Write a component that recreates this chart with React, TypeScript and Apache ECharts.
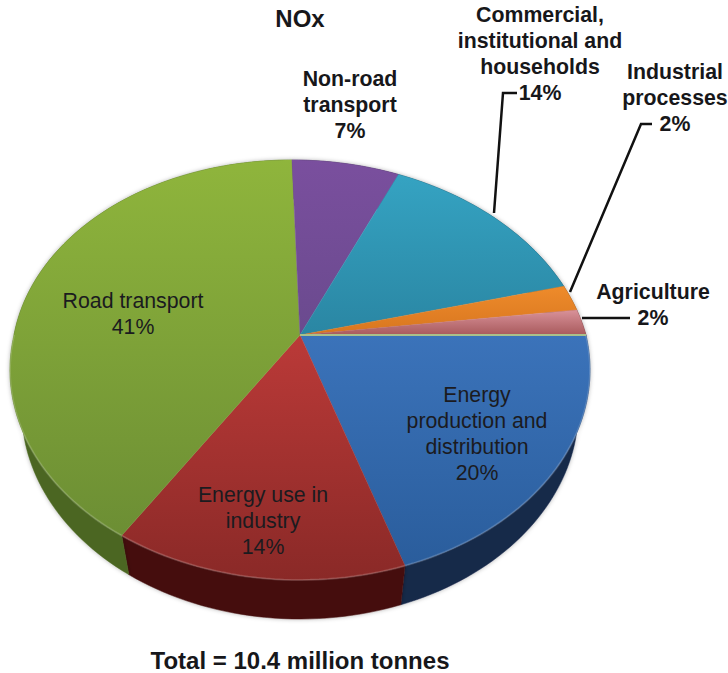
import React, { useEffect, useRef } from "react";
import * as echarts from "echarts";

// NOx emissions by source, clockwise from three o'clock.
const sources = [
  "Energy\nproduction and\ndistribution",
  "Energy use in\nindustry",
  "Road transport",
  "Non-road\ntransport",
  "Commercial,\ninstitutional and\nhouseholds",
  "Industrial\nprocesses",
  "Agriculture",
];
const shares = [20, 14, 41, 7, 14, 2, 2];
const chartTitle = "NOx";
const totalNote = "Total = 10.4 million tonnes";

const topColors = [
  ["#3b73ba", "#2a5d9c"],
  ["#bb3a38", "#8a2927"],
  ["#8fb53c", "#6c8e34"],
  ["#7a4f9e", "#6a4a8e"],
  ["#35a3c2", "#2a86a3"],
  ["#ee8b2b", "#d8761f"],
  ["#d9929a", "#a85a5c"],
];
const wallColors = ["#16294a", "#45100e", "#4b6620", "#3a2650", "#14485a", "#7a4010", "#5a2a2c"];

// A flat disc seen in perspective: the rim is an ellipse and the disc's centre
// sits above the ellipse's own centre. The far half leans slightly to the left.
const CX = 300;
const CY = 370;
const RX = 286;
const RY = 210;
const APEX_SHIFT = 35;
const FORESHORTEN = 1 / 6;
const DEPTH = 39;
const BASE_SCALE = 0.96;
const LEAN = 0.046;

function rimPoint(deg: number): [number, number] {
  const a = (deg * Math.PI) / 180;
  const u = Math.cos(a);
  const v = -Math.sin(a);
  const d = 1 + v * FORESHORTEN;
  const x = CX + (RX * u) / d;
  const y = CY + (-RY * v - APEX_SHIFT) / d;
  const above = Math.max(0, CY - APEX_SHIFT - y);
  return [x - LEAN * above, y];
}

function basePoint(p: [number, number]): [number, number] {
  return [CX + (p[0] - CX) * BASE_SCALE, p[1] + DEPTH];
}

function arcPoints(from: number, to: number): [number, number][] {
  const n = Math.max(2, Math.ceil((to - from) / 1.5));
  const pts: [number, number][] = [];
  for (let i = 0; i <= n; i++) pts.push(rimPoint(from + ((to - from) * i) / n));
  return pts;
}

function sliceRange(index: number): [number, number] {
  const total = shares.reduce((s, v) => s + v, 0);
  let before = 0;
  for (let i = 0; i < index; i++) before += shares[i];
  return [(before / total) * 360, ((before + shares[index]) / total) * 360];
}

const apex: [number, number] = [CX, CY - APEX_SHIFT];

function renderWall(params: any) {
  const [from, to] = sliceRange(params.dataIndex);
  const rim = arcPoints(from, to);
  return {
    type: "polygon",
    silent: true,
    shape: { points: [...rim, ...rim.map(basePoint).reverse()] },
    style: {
      fill: wallColors[params.dataIndex],
      stroke: wallColors[params.dataIndex],
      lineWidth: 0.5,
      shadowBlur: 4,
      shadowColor: "rgba(0,0,0,0.3)",
    },
  };
}

function renderTop(params: any) {
  const i = params.dataIndex;
  const [from, to] = sliceRange(i);
  const rim = arcPoints(from, to);
  const surface = {
    type: "linear",
    x: 0,
    y: 0,
    x2: 0,
    y2: 1,
    colorStops: [
      { offset: 0, color: topColors[i][0] },
      { offset: 1, color: topColors[i][1] },
    ],
  };
  const children: any[] = [
    {
      type: "polygon",
      silent: true,
      shape: { points: [apex, ...rim] },
      style: { fill: surface, stroke: surface, lineWidth: 0.4 },
    },
  ];
  // Light bevel along the near edge of the disc.
  if (from < 180) {
    children.push({
      type: "polyline",
      silent: true,
      shape: { points: arcPoints(from, Math.min(to, 180)) },
      style: { fill: "none", stroke: "rgba(255,255,255,0.16)", lineWidth: 2 },
    });
  }
  // Pale seam where the last slice closes the circle.
  if (i === shares.length - 1) {
    children.push({
      type: "line",
      silent: true,
      shape: { x1: apex[0], y1: apex[1], x2: rim[rim.length - 1][0], y2: rim[rim.length - 1][1] },
      style: { stroke: "#a9c08a", lineWidth: 2 },
    });
  }
  return { type: "group", children };
}

const INNER = { font: '21.3px "Liberation Sans", Arial, sans-serif', fill: "#1b1b1f" };
const OUTER = { font: 'bold 21.3px "Liberation Sans", Arial, sans-serif', fill: "#17171a" };
const HEADING = { font: 'bold 24px "Liberation Sans", Arial, sans-serif', fill: "#17171a" };

function label(text: string, x: number, y: number, base: { font: string; fill: string }) {
  return {
    type: "text",
    x,
    y,
    z: 100,
    silent: true,
    style: { text, font: base.font, fill: base.fill, align: "center", verticalAlign: "top", lineHeight: 26 },
  };
}

const sourceLabel = (i: number) => `${sources[i]}\n${shares[i]}%`;

function leader(points: [number, number][]) {
  return {
    type: "polyline",
    z: 100,
    silent: true,
    shape: { points },
    style: { fill: "none", stroke: "#111", lineWidth: 2.5 },
  };
}

export default function App() {
  const ref = useRef<HTMLDivElement>(null);
  useEffect(() => {
    const chart = echarts.init(ref.current!, undefined, { renderer: "svg" });
    chart.setOption({
      animation: false,
      backgroundColor: "#ffffff",
      series: [
        { type: "custom", coordinateSystem: "none", z: 1, silent: true, data: shares, renderItem: renderWall },
        { type: "custom", coordinateSystem: "none", z: 2, silent: true, data: shares, renderItem: renderTop },
      ],
      graphic: {
        elements: [
          label(chartTitle, 300, 5, HEADING),
          label(totalNote, 300, 647, HEADING),
          label(sourceLabel(0), 477, 382, INNER),
          label(sourceLabel(1), 263, 482, INNER),
          label(sourceLabel(2), 133, 288, INNER),
          label(sourceLabel(3), 350, 66, OUTER),
          label(sourceLabel(4), 540, 2, OUTER),
          label(sourceLabel(5), 675, 59, OUTER),
          label(sourceLabel(6), 653, 279, OUTER),
          leader([[517, 93], [503, 93], [494, 213]]),
          leader([[652, 124], [641, 124], [570, 292]]),
          leader([[582, 318], [630, 318]]),
        ],
      },
    });
    return () => chart.dispose();
  }, []);
  return <div ref={ref} style={{ position: "fixed", left: 0, top: 0, width: 728, height: 673 }} />;
}
